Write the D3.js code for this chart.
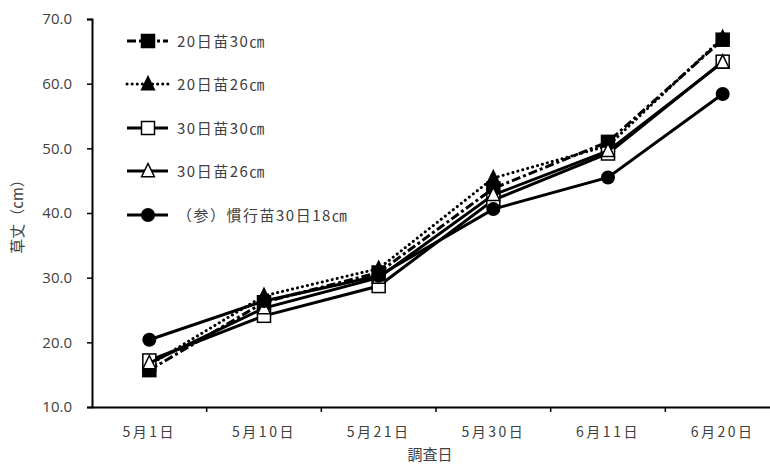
<!DOCTYPE html>
<html>
<head>
<meta charset="utf-8">
<script src="https://cdn.jsdelivr.net/npm/d3@7/dist/d3.min.js"></script>
<style>
  html, body { margin: 0; padding: 0; background: #fff; }
  svg { display: block; font-family: "Noto Sans CJK JP", "Noto Sans", sans-serif; }
</style>
</head>
<body>
<svg id="chart" width="770" height="465"></svg>
<script>
// Survey dates (category axis)
const dates = ["5月1日", "5月10日", "5月21日", "5月30日", "6月11日", "6月20日"];

// Plant height (cm) per treatment
const seedling20d30 = [15.7, 26.2, 30.8, 43.8, 51.0, 66.8];
const seedling20d26 = [16.5, 27.2, 31.4, 45.4, 50.4, 67.1];
const seedling30d30 = [17.2, 24.1, 28.7, 42.0, 49.2, 63.4];
const seedling30d26 = [16.8, 25.3, 30.0, 42.8, 49.6, 63.3];
const conventional   = [20.4, 26.4, 30.3, 40.6, 45.5, 58.4];

const seriesNames = ["20日苗30㎝", "20日苗26㎝", "30日苗30㎝", "30日苗26㎝", "（参）慣行苗30日18㎝"];
const yTicks = [10, 20, 30, 40, 50, 60, 70];

const series = [
  { name: seriesNames[0], values: seedling20d30, dash: "9,3,3,3", cap: "butt", marker: "square", fill: "#000" },
  { name: seriesNames[1], values: seedling20d26, dash: "0.1,5", cap: "round", marker: "triangle", fill: "#000" },
  { name: seriesNames[2], values: seedling30d30, dash: null, cap: "butt", marker: "square", fill: "#fff" },
  { name: seriesNames[3], values: seedling30d26, dash: null, cap: "butt", marker: "triangle", fill: "#fff" },
  { name: seriesNames[4], values: conventional, dash: null, cap: "butt", marker: "circle", fill: "#000" }
];

const svg = d3.select("#chart");
const plotLeft = 92, plotTop = 19, plotBottom = 407, plotRight = 780;

const x = d3.scaleBand().domain(dates).range([plotLeft, plotRight]);
const y = d3.scaleLinear().domain([10, 70]).range([plotBottom, plotTop]);

const textColor = "#404040";

// Axes
const yAxis = d3.axisLeft(y).tickValues(yTicks).tickSize(5).tickFormat(d3.format(".1f"));
const gy = svg.append("g").attr("transform", `translate(${plotLeft},0)`).call(yAxis);
gy.select(".domain").attr("stroke", "#000").attr("stroke-width", 2);
gy.selectAll(".tick line").attr("stroke", "#000").attr("stroke-width", 1.5);
gy.selectAll(".tick text").attr("fill", textColor).style("font-size", "15px")
  .style("font-family", "'Open Sans', 'Noto Sans', sans-serif").attr("x", -20);

const xAxis = d3.axisBottom(x).tickSize(0).tickSizeOuter(0);
const gx = svg.append("g").attr("transform", `translate(0,${plotBottom})`).call(xAxis);
gx.select(".domain").attr("stroke", "#000").attr("stroke-width", 2);
gx.selectAll(".tick text").attr("fill", textColor).style("font-size", "14px")
  .style("font-family", "'Noto Sans CJK JP', sans-serif")
  .attr("letter-spacing", "2.5px").attr("dy", "1.95em");
// tick marks on category boundaries
gx.selectAll(".bound").data(dates.slice(1)).enter().append("line")
  .attr("x1", d => x(d)).attr("x2", d => x(d))
  .attr("y1", 0).attr("y2", 5).attr("stroke", "#000").attr("stroke-width", 1.5);

// Axis titles
svg.append("text").attr("x", 430).attr("y", 460).attr("text-anchor", "middle")
  .attr("fill", textColor).attr("font-size", 15).text("調査日");
svg.append("text").attr("transform", "translate(23,213) rotate(-90)")
  .attr("text-anchor", "middle").attr("fill", textColor).attr("font-size", 15).text("草丈（cm）");

const cx = d => x(d) + x.bandwidth() / 2;

function drawMarker(g, type, fill, px, py) {
  if (type === "square") {
    g.append("rect").attr("x", px - 6.5).attr("y", py - 6.5).attr("width", 13).attr("height", 13)
      .attr("fill", fill).attr("stroke", "#000").attr("stroke-width", 1.5);
  } else if (type === "triangle") {
    const s = 7.5;
    g.append("path").attr("d", `M${px},${py - s}L${px + s * 0.85},${py + s * 0.75}L${px - s * 0.85},${py + s * 0.75}Z`)
      .attr("fill", fill).attr("stroke", "#000").attr("stroke-width", 1.5);
  } else {
    g.append("circle").attr("cx", px).attr("cy", py).attr("r", 7).attr("fill", fill);
  }
}

const line = d3.line().x((d, i) => cx(dates[i])).y(d => y(d));

series.forEach(s => {
  const g = svg.append("g");
  g.append("path").attr("d", line(s.values)).attr("fill", "none").attr("stroke", "#000")
    .attr("stroke-width", 3)
    .attr("stroke-linecap", s.cap)
    .attr("stroke-dasharray", s.dash);
  s.values.forEach((v, i) => drawMarker(g, s.marker, s.fill, cx(dates[i]), y(v)));
});

// Legend
const legendRows = [41, 84, 128, 171, 215];
series.forEach((s, i) => {
  const g = svg.append("g");
  const ly = legendRows[i];
  g.append("line").attr("x1", 127).attr("x2", 168).attr("y1", ly).attr("y2", ly)
    .attr("stroke", "#000").attr("stroke-width", 3)
    .attr("stroke-linecap", s.cap).attr("stroke-dasharray", s.dash);
  drawMarker(g, s.marker, s.fill, 148, ly);
  g.append("text").attr("x", 177).attr("y", ly + 5.5).attr("fill", textColor)
    .attr("font-size", 15).attr("letter-spacing", "1.5px").text(s.name);
});
</script>
</body>
</html>
